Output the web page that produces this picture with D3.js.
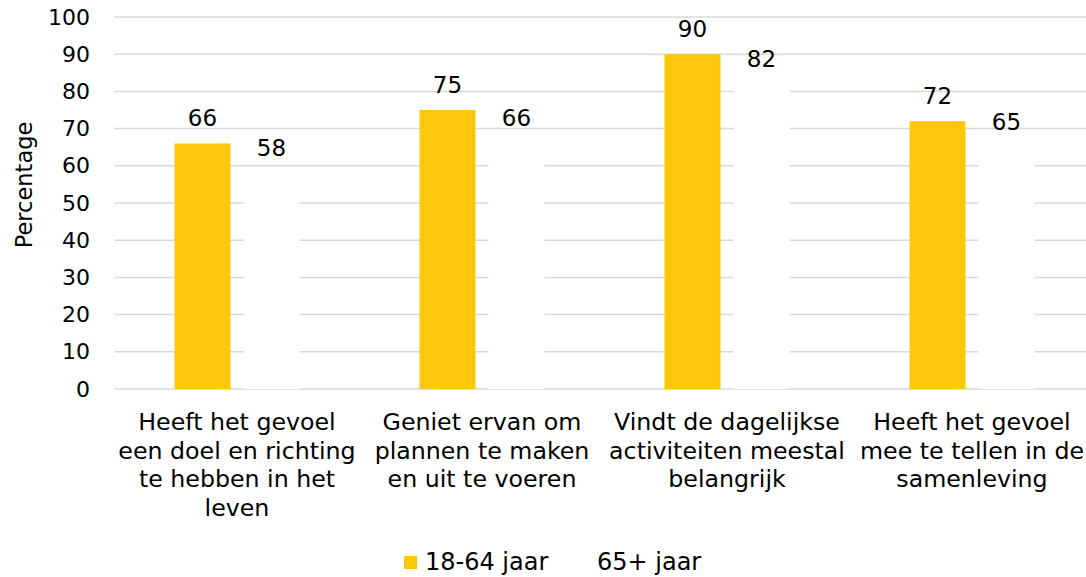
<!DOCTYPE html>
<html>
<meta charset="utf-8">
<style>
  body {
    margin: 0;
    background-color: #fff;
    overflow: hidden;
  }
  text {
    font-family: "DejaVu Sans", Verdana, sans-serif;
    fill: #000;
  }
  .grid line {
    stroke: #d9d9d9;
    stroke-width: 1.5;
  }
</style>
<body>
<script src="https://cdn.jsdelivr.net/npm/d3@7"></script>
<script>

// data
var categories = [
  'Heeft het gevoel een doel en richting te hebben in het leven',
  'Geniet ervan om plannen te maken en uit te voeren',
  'Vindt de dagelijkse activiteiten meestal belangrijk',
  'Heeft het gevoel mee te tellen in de samenleving'
];
// category labels broken into lines as in the picture
var categoryLines = [
  ['Heeft het gevoel', 'een doel en richting', 'te hebben in het', 'leven'],
  ['Geniet ervan om', 'plannen te maken', 'en uit te voeren'],
  ['Vindt de dagelijkse', 'activiteiten meestal', 'belangrijk'],
  ['Heeft het gevoel', 'mee te tellen in de', 'samenleving']
];
var seriesNames = ['18-64 jaar', '65+ jaar'];
var young = [66, 75, 90, 72];
var old = [58, 66, 82, 65];
var yTicks = [0, 10, 20, 30, 40, 50, 60, 70, 80, 90, 100];

var colors = ['#fdc70c', '#ffffff'];

var width = 1086,
  height = 577;
var margin = { top: 17, left: 114.5, bottom: 188 };
var plotWidth = 980;
var fontSize = '22px';
var labelSize = '23.7px';

var svg = d3
  .select('body')
  .append('svg')
  .attr('width', width)
  .attr('height', height);

var x0 = d3
  .scaleBand()
  .domain(categories)
  .range([margin.left, margin.left + plotWidth]);

var x1 = d3
  .scaleBand()
  .domain(seriesNames)
  .range([0, x0.bandwidth()])
  .paddingInner(0.188)
  .paddingOuter(0.87);

var y = d3
  .scaleLinear()
  .domain([0, 100])
  .range([height - margin.bottom, margin.top]);

// gridlines
svg
  .append('g')
  .attr('class', 'grid')
  .selectAll('line')
  .data(yTicks)
  .enter()
  .append('line')
  .attr('x1', margin.left)
  .attr('x2', margin.left + plotWidth)
  .attr('y1', function(d) { return y(d); })
  .attr('y2', function(d) { return y(d); });

// y axis labels
var yAxis = d3
  .axisLeft(y)
  .tickValues(yTicks)
  .tickSize(0)
  .tickPadding(0);

svg
  .append('g')
  .attr('transform', 'translate(90,0)')
  .call(yAxis)
  .call(function(g) { g.select('.domain').remove(); })
  .selectAll('text')
  .style('font-size', fontSize)
  .style('font-family', '"DejaVu Sans", Verdana, sans-serif');

svg
  .append('text')
  .attr('transform', 'translate(32,185) rotate(-90)')
  .attr('text-anchor', 'middle')
  .style('font-size', '22.5px')
  .text('Percentage');

// bars
var rows = categories.map(function(c, i) {
  return { cat: c, values: [young[i], old[i]] };
});

var groups = svg
  .append('g')
  .selectAll('g')
  .data(rows)
  .enter()
  .append('g')
  .attr('transform', function(d) { return 'translate(' + x0(d.cat) + ',0)'; });

groups
  .selectAll('rect')
  .data(function(d) {
    return d.values.map(function(v, j) { return { name: seriesNames[j], value: v, j: j }; });
  })
  .enter()
  .append('rect')
  .attr('x', function(d) { return x1(d.name); })
  .attr('width', x1.bandwidth())
  .attr('y', function(d) { return y(d.value); })
  .attr('height', function(d) { return y(0) - y(d.value); })
  .style('fill', function(d) { return colors[d.j]; });

groups
  .selectAll('text.val')
  .data(function(d) {
    return d.values.map(function(v, j) { return { name: seriesNames[j], value: v }; });
  })
  .enter()
  .append('text')
  .attr('class', 'val')
  .attr('x', function(d) { return x1(d.name) + x1.bandwidth() / 2; })
  .attr('y', function(d) { return y(d.value) - 17; })
  .attr('text-anchor', 'middle')
  .style('font-size', '23px')
  .text(function(d) { return d.value; });

// category labels
var catLabels = svg
  .append('g')
  .selectAll('text')
  .data(categories)
  .enter()
  .append('text')
  .attr('text-anchor', 'middle')
  .attr('x', function(d) { return x0(d) + x0.bandwidth() / 2; })
  .attr('y', 430)
  .style('font-size', labelSize);

catLabels
  .selectAll('tspan')
  .data(function(d, i) { return categoryLines[i]; })
  .enter()
  .append('tspan')
  .attr('x', function() { return d3.select(this.parentNode).attr('x'); })
  .attr('dy', function(d, i) { return i === 0 ? 0 : 28.5; })
  .text(function(d) { return d; });

// legend
var legendX = [404, 576];
var legend = svg
  .append('g')
  .selectAll('g')
  .data(seriesNames)
  .enter()
  .append('g')
  .attr('transform', function(d, i) { return 'translate(' + legendX[i] + ',556)'; });

legend
  .append('rect')
  .attr('width', 13)
  .attr('height', 13)
  .style('fill', function(d, i) { return colors[i]; });

legend
  .append('text')
  .attr('x', 21)
  .attr('y', 14)
  .style('font-size', '24px')
  .text(function(d) { return d; });

</script>
</body>
</html>
